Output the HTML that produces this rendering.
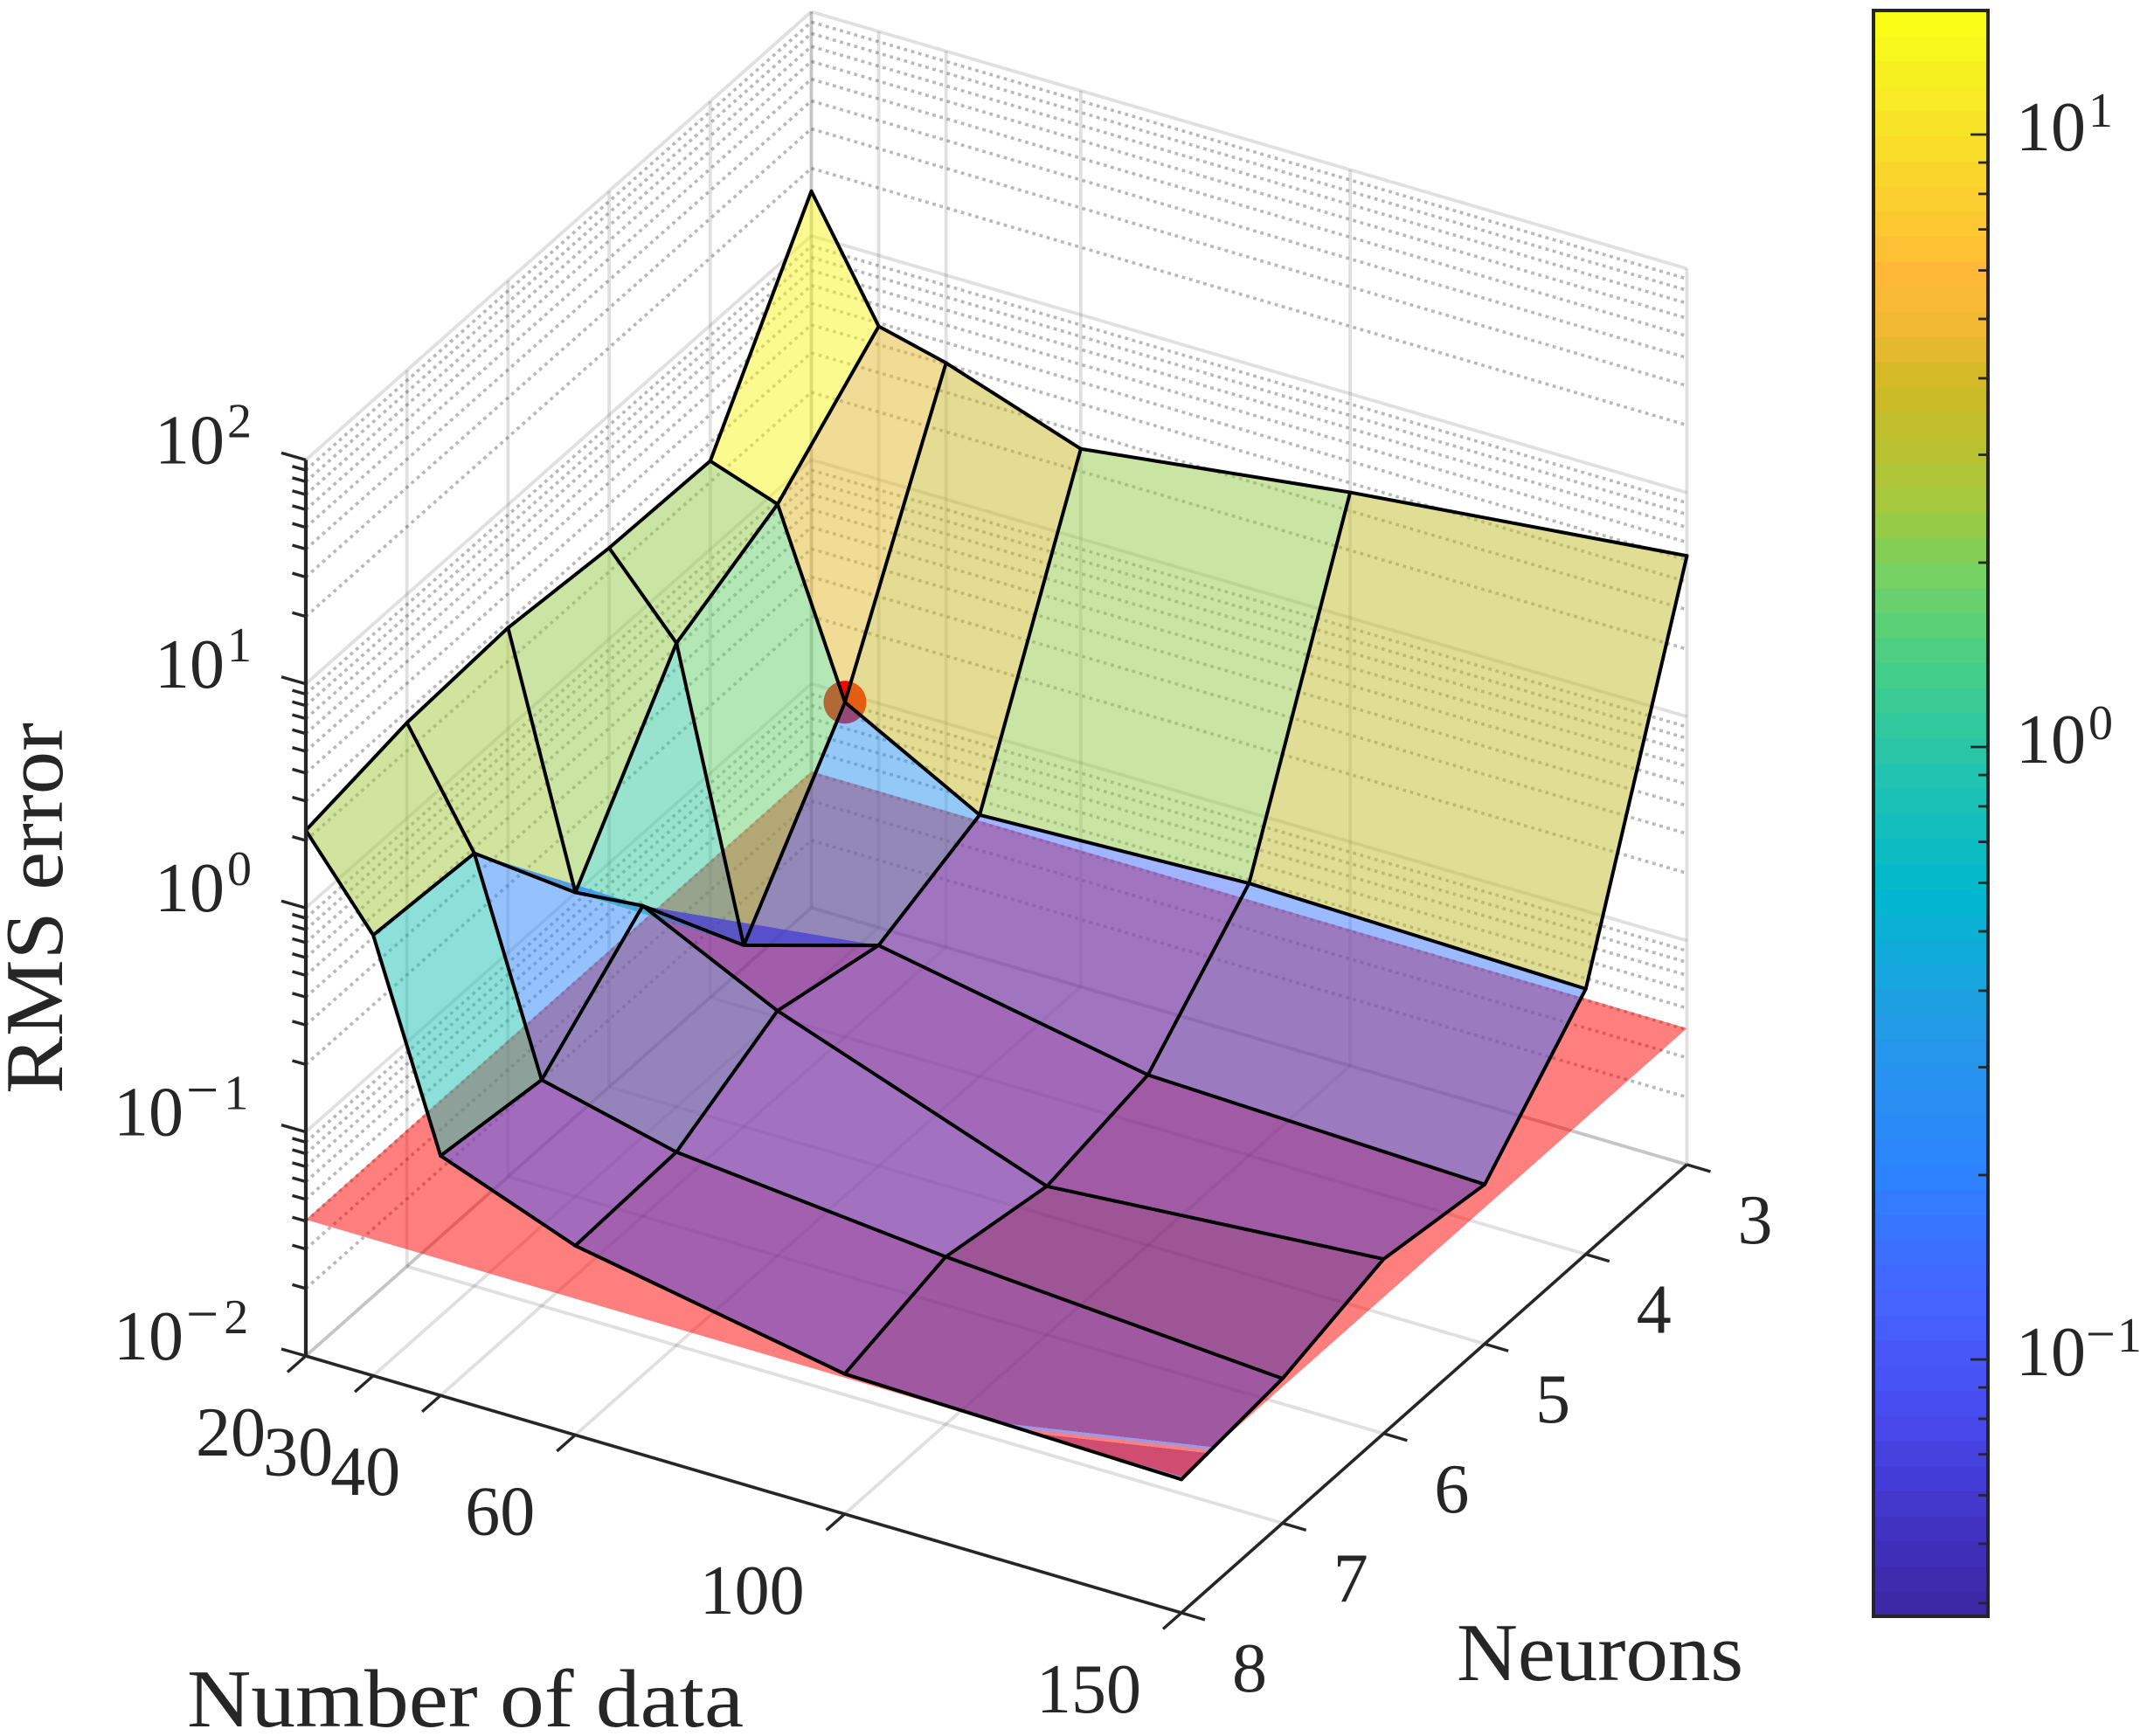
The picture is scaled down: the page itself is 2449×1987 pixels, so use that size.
<!DOCTYPE html>
<html lang="en">
<head>
<meta charset="utf-8">
<title>RMS error surface</title>
<style>
html,body{margin:0;padding:0;background:#fff;}
svg{display:block;}
text{font-family:"Liberation Serif",serif;fill:#262626;}
</style>
</head>
<body>
<svg id="chart" xmlns="http://www.w3.org/2000/svg" width="2449" height="1987" viewBox="0 0 2449 1987">
  <rect width="2449" height="1987" fill="#fff"/>
  <g id="grid"></g>
  <g id="below"></g>
  <g id="plane"></g>
  <g id="above"></g>
  <g id="strips"></g>
  <g id="mesh"></g>
  <g id="axes"></g>
  <g id="colorbar"></g>
  <text transform="translate(71,1252) rotate(-90)" font-size="94" textLength="425" lengthAdjust="spacingAndGlyphs">RMS error</text>
  <text x="214" y="1976" font-size="94" textLength="637" lengthAdjust="spacingAndGlyphs">Number of data</text>
  <text x="1667" y="1923" font-size="94" textLength="328" lengthAdjust="spacingAndGlyphs">Neurons</text>
</svg>
<script>
// ---- data ----
const dataCounts = [20, 30, 40, 60, 100, 150];
const neuronCounts = [3, 4, 5, 6, 7, 8];
const rmsN3 = [15.8, 4.83, 4.06, 2.52, 3.63, 5.22];
const rmsN4 = [2.48, 1.95, 0.312, 0.147, 0.164, 0.153];
const rmsN5 = [2.55, 1.175, 0.0644, 0.0966, 0.0575, 0.0515];
const rmsN6 = [2.82, 0.2275, 0.243, 0.124, 0.046, 0.0601];
const rmsN7 = [2.67, 0.855, 0.102, 0.0729, 0.056, 0.0442];
const rmsN8 = [2.22, 0.927, 0.1175, 0.07, 0.0422, 0.0394];
const planeRms = [0.0406];
const markerData = [40];
const markerNeurons = [4];
const markerRms = [0.312];
const zDecades = [-2, -1, 0, 1, 2];
const colorLimits = [0.0384, 18];
const colorbarDecades = [-1, 0, 1];
const colorbarMinorDecades = [-2, -1, 0, 1];
const colorStops = [0,0.057,0.119,0.197,0.275,0.369,0.453,0.525,0.585,0.647,0.694,0.763,0.803,0.835,0.922,0.975,1];
const colorStopsRGB = [[60,38,160],[65,50,195],[72,72,235],[70,100,255],[45,130,255],[35,155,230],[0,185,205],[35,195,175],[65,205,140],[115,210,100],[165,200,60],[205,185,35],[240,185,50],[255,185,55],[248,225,40],[247,245,30],[250,255,20]];

const rmsGrid = [rmsN3, rmsN4, rmsN5, rmsN6, rmsN7, rmsN8];
const NS = 'http://www.w3.org/2000/svg';

// ---- axis functions ----
function screenX(x, y) {
  const u = (x - 20) / 130, v = (8 - y) / 5;
  return 350 + u * 1002 + v * 578.5;
}
function screenY(x, y, lz) {
  const u = (x - 20) / 130, v = (8 - y) / 5;
  return 1552 + u * 294 - v * 513 - (lz + 2) * 256.4;
}
function project(x, y, lz) {
  return [screenX(x, y), screenY(x, y, lz)];
}
function cbY(lz) {
  return 1556 - (lz + 1) * 701;
}
function shape(tag, attrs, parent, text) {
  const e = document.createElementNS(NS, tag);
  for (const k in attrs) e.setAttribute(k, attrs[k]);
  if (text !== undefined) e.textContent = text;
  document.getElementById(parent).appendChild(e);
  return e;
}
function pts(list) {
  return list.map(p => p[0].toFixed(2) + ',' + p[1].toFixed(2)).join(' ');
}
function colormap(frac) {
  const f = Math.max(0, Math.min(0.9999, frac));
  const q = (Math.floor(f * 64) + 0.5) / 64;
  let i = 0;
  while (i < colorStops.length - 2 && q > colorStops[i + 1]) i++;
  const t = (q - colorStops[i]) / (colorStops[i + 1] - colorStops[i]);
  const c = colorStopsRGB[i].map((a, k) => Math.round(a + (colorStopsRGB[i + 1][k] - a) * t));
  return 'rgb(' + c.join(',') + ')';
}
function valueColor(v) {
  const lo = Math.log10(colorLimits[0]), hi = Math.log10(colorLimits[1]);
  return colormap((Math.log10(v) - lo) / (hi - lo));
}

// ---- grid ----
const majorGrid = 'rgba(38,38,38,0.14)';
const minorGrid = 'rgba(38,38,38,0.33)';
function gridLine(a, b, minor) {
  const l = shape('line', {x1:a[0],y1:a[1],x2:b[0],y2:b[1],stroke:minor?minorGrid:majorGrid,'stroke-width':minor?3.6:3.8,'stroke-dasharray':minor?'3.8 4.7':'none'}, 'grid');
  
  
}
const xLo = dataCounts[0], xHi = dataCounts[dataCounts.length - 1];
const yBack = neuronCounts[0], yFront = neuronCounts[neuronCounts.length - 1];
const zLo = zDecades[0], zHi = zDecades[zDecades.length - 1];
zDecades.forEach((d) => {
  gridLine(project(xLo, yFront, d), project(xLo, yBack, d), false);
  gridLine(project(xLo, yBack, d), project(xHi, yBack, d), false);
  if (d < zHi) {
    for (let m = 2; m <= 9; m++) {
      const lz = d + Math.log10(m);
      gridLine(project(xLo, yFront, lz), project(xLo, yBack, lz), true);
      gridLine(project(xLo, yBack, lz), project(xHi, yBack, lz), true);
    }
  }
});
dataCounts.forEach((x) => {
  gridLine(project(x, yFront, zLo), project(x, yBack, zLo), false);
  gridLine(project(x, yBack, zLo), project(x, yBack, zHi), false);
});
neuronCounts.forEach((y) => {
  gridLine(project(xLo, y, zLo), project(xHi, y, zLo), false);
  gridLine(project(xLo, y, zLo), project(xLo, y, zHi), false);
});

// ---- plane ----
const planeLz = Math.log10(planeRms[0]);
const planePoly = shape('polygon', {points: pts([project(xLo,yFront,planeLz),project(xHi,yFront,planeLz),project(xHi,yBack,planeLz),project(xLo,yBack,planeLz)]), fill:'rgba(255,0,0,0.5)'}, 'plane');



// ---- surface ----
function clipAt(poly, level, keepAbove) {
  const out = [];
  for (let i = 0; i < poly.length; i++) {
    const a = poly[i], b = poly[(i + 1) % poly.length];
    const da = a[2] - level, db = b[2] - level;
    const ina = keepAbove ? da >= 0 : da <= 0;
    const inb = keepAbove ? db >= 0 : db <= 0;
    if (ina) out.push(a);
    if (ina !== inb) {
      const t = da / (da - db);
      out.push([a[0] + (b[0] - a[0]) * t, a[1] + (b[1] - a[1]) * t, level]);
    }
  }
  return out;
}
function drawFragment(poly, color, group) {
  if (poly.length < 3) return;
  const p = shape('polygon', {points: pts(poly.map(q => project(q[0], q[1], q[2]))), fill: color, 'fill-opacity': 0.5, 'shape-rendering': 'crispEdges'}, group);
  
  
}
function drawStrip(poly, color) {
  if (poly.length < 3) return;
  const list = pts(poly.map(q => project(q[0], q[1], q[2])));
  const w = shape('polygon', {points: list, fill: '#fff', 'shape-rendering': 'crispEdges'}, 'strips');
  
  
  const c = shape('polygon', {points: list, fill: color, 'fill-opacity': 0.5, 'shape-rendering': 'crispEdges'}, 'strips');
  
  
}
function vertex(i, j) {
  return [dataCounts[i], neuronCounts[j], Math.log10(rmsGrid[j][i])];
}
function drawMarker() {
  const c = project(markerData[0], markerNeurons[0], Math.log10(markerRms[0]));
  const m = shape('circle', {cx:c[0], cy:c[1], r:24.5, fill:'#ff0000'}, 'above');
  
  
}
const markerXi = dataCounts.indexOf(markerData[0]);
const markerYi = neuronCounts.indexOf(markerNeurons[0]);
const stripStep = 0.00146;
for (let j = 0; j < neuronCounts.length - 1; j++) {
  for (let i = 0; i < dataCounts.length - 1; i++) {
    const color = valueColor(rmsGrid[j][i]);
    const tris = [
      [vertex(i, j), vertex(i + 1, j), vertex(i, j + 1)],
      [vertex(i + 1, j), vertex(i + 1, j + 1), vertex(i, j + 1)]
    ];
    tris.forEach((t) => {
      const lower = clipAt(t, planeLz, false);
      drawFragment(lower, color, 'below');
      drawFragment(clipAt(t, planeLz, true), color, 'above');
      if (lower.length >= 3) {
        drawStrip(clipAt(clipAt(t, planeLz, true), planeLz + stripStep, false), '#ff0000');
        drawStrip(clipAt(clipAt(t, planeLz + stripStep, true), planeLz + 2 * stripStep, false), color);
      }
    });
    if (j === markerYi - 1 && i === markerXi - 1) drawMarker();
  }
}
function meshLine(list) {
  const l = shape('polyline', {points: pts(list), fill:'none', stroke:'#000', 'stroke-width':4, 'stroke-linejoin':'round', 'stroke-linecap':'round'}, 'mesh');
  
  
}
neuronCounts.forEach((y, j) => {
  meshLine(dataCounts.map((x, i) => project(x, y, Math.log10(rmsGrid[j][i]))));
});
dataCounts.forEach((x, i) => {
  meshLine(neuronCounts.map((y, j) => project(x, y, Math.log10(rmsGrid[j][i]))));
});

// ---- axes ----
const axisColor = '#262626';
function axisLine(a, b, w, name) {
  const l = shape('line', {x1:a[0],y1:a[1],x2:b[0],y2:b[1],stroke:axisColor,'stroke-width':w,'stroke-linecap':'butt'}, 'axes');
  
  
}
function addSup(t, d, minusSize, minusDx, digitDx, raise) {
  const digitSize = 56;
  if (d < 0) {
    const m = document.createElementNS(NS, 'tspan');
    m.setAttribute('font-size', String(minusSize));
    m.setAttribute('dy', String(-raise));
    m.setAttribute('dx', String(minusDx));
    m.textContent = '\u2212';
    t.appendChild(m);
    const s = document.createElementNS(NS, 'tspan');
    s.setAttribute('font-size', String(digitSize));
    s.setAttribute('dx', String(digitDx));
    s.textContent = String(-d);
    t.appendChild(s);
  } else {
    const s = document.createElementNS(NS, 'tspan');
    s.setAttribute('font-size', String(digitSize));
    s.setAttribute('dy', String(-raise));
    s.setAttribute('dx', '3');
    s.textContent = String(d);
    t.appendChild(s);
  }
}
axisLine(project(xLo, yFront, zLo), project(xLo, yFront, zHi), 4.2, 'z-axis-line');
axisLine(project(xLo, yFront, zLo), project(xHi, yFront, zLo), 3.6, 'x-axis-line');
axisLine(project(xHi, yFront, zLo), project(xHi, yBack, zLo), 3.6, 'y-axis-line');
zDecades.forEach((d) => {
  const p = project(xLo, yFront, d);
  axisLine(p, [p[0] - 28, p[1] - 8], 3.4, 'z-major-tick');
  if (d < zHi) {
    for (let m = 2; m <= 9; m++) {
      const q = project(xLo, yFront, d + Math.log10(m));
      axisLine(q, [q[0] - 15.5, q[1] - 4.4], 3.4, 'z-minor-tick');
    }
  }
  const t = shape('text', {x: d < 0 ? 130 : 177, y: p[1] + 4, 'font-size':80}, 'axes', '10');
  
  
  addSup(t, d, 66, 3, 6, 30);
});
dataCounts.forEach((x) => {
  const p = project(x, yFront, zLo);
  axisLine(p, [p[0] - 21, p[1] + 18.5], 3.4, 'x-tick');
  const t = shape('text', {x: p[0] - 46, y: p[1] + 114, 'text-anchor':'end', 'font-size':80}, 'axes', String(x));
  
  
});
neuronCounts.forEach((y) => {
  const p = project(xHi, y, zLo);
  axisLine(p, [p[0] + 27, p[1] + 8], 3.4, 'y-tick');
  const t = shape('text', {x: p[0] + 78, y: p[1] + 90, 'text-anchor':'middle', 'font-size':80}, 'axes', String(y));
  
  
});

// ---- colorbar ----
const cbLeft = 2144, cbRight = 2275, cbTop = 12, cbBottom = 1850;
for (let k = 0; k < 64; k++) {
  const y0 = cbBottom - (k + 1) / 64 * (cbBottom - cbTop);
  const r = shape('rect', {x: cbLeft, y: y0.toFixed(2), width: cbRight - cbLeft, height: ((cbBottom - cbTop) / 64 + 0.6).toFixed(2), fill: colormap((k + 0.5) / 64)}, 'colorbar');
  
  
}
const cbFrame = shape('rect', {x: cbLeft, y: cbTop, width: cbRight - cbLeft, height: cbBottom - cbTop, fill: 'none', stroke: axisColor, 'stroke-width': 4}, 'colorbar');


function cbTick(lz, len, name) {
  const y = cbY(lz);
  if (y < cbTop || y > cbBottom) return;
  const l = shape('line', {x1: cbRight, y1: y, x2: cbRight - len, y2: y, stroke: axisColor, 'stroke-width': 2.8}, 'colorbar');
  
  
}
colorbarMinorDecades.forEach((d) => {
  for (let m = 2; m <= 9; m++) cbTick(d + Math.log10(m), 11, 'colorbar-minor-tick');
});
colorbarDecades.forEach((d) => {
  cbTick(d, 20, 'colorbar-major-tick');
  const t = shape('text', {x: 2307, y: cbY(d) + 18, 'font-size': 80}, 'colorbar', '10');
  
  
  addSup(t, d, 60, 0, 2, 27);
});
</script>
</body>
</html>
